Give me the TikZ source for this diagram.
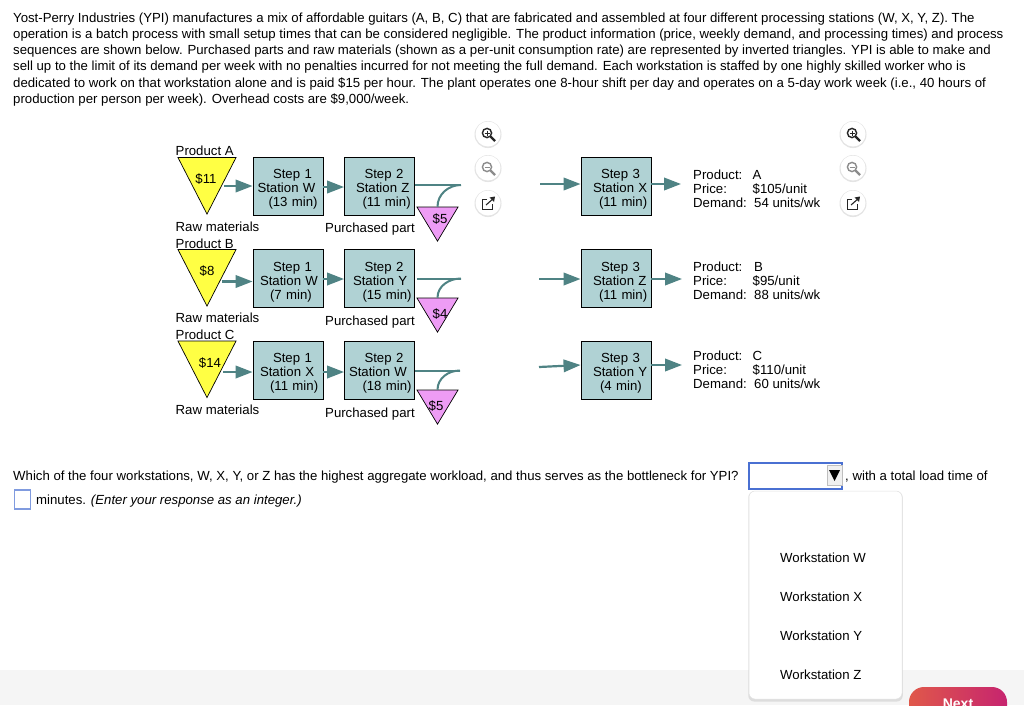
\documentclass[tikz,border=0pt]{standalone}
\usepackage{fontspec}
\setmainfont{Liberation Sans}
\usetikzlibrary{arrows.meta,shapes.geometric,shadows}
\definecolor{flowcol}{HTML}{4F8384}
\definecolor{boxcol}{HTML}{B0D2D4}
\definecolor{rawcol}{HTML}{FFFF44}
\definecolor{partcol}{HTML}{EE9CF5}
\definecolor{fieldcol}{HTML}{4A70D2}
\definecolor{nextleft}{HTML}{E0584A}
\definecolor{nextright}{HTML}{C6246F}
\tikzset{
  txt/.style={inner sep=0pt,anchor=west,align=left,font=\fontsize{13.2}{14.1}\selectfont},
  stepbox/.style={draw=black,line width=0.9pt,fill=boxcol,minimum height=58pt,text width=70pt,
    inner sep=0pt,align=left,font=\fontsize{13.2}{14.1}\selectfont},
  rawtri/.style={isosceles triangle,isosceles triangle stretches,shape border rotate=-90,draw=black,
    line width=0.7pt,fill=rawcol,minimum width=58pt,minimum height=56.5pt,inner sep=0pt,anchor=apex},
  parttri/.style={isosceles triangle,isosceles triangle stretches,shape border rotate=-90,draw=black,
    line width=0.7pt,fill=partcol,minimum width=41pt,minimum height=34pt,inner sep=0pt,anchor=apex},
  flow/.style={draw=flowcol,line width=2.2pt,-{Triangle[length=17pt,width=12.5pt]}},
  feed/.style={draw=flowcol,line width=2pt},
  iconbtn/.style={circle,fill=white,minimum size=25pt,inner sep=0pt,
    general shadow={fill=black!35,opacity=0.3,shadow xshift=0pt,shadow yshift=-0.5pt,shadow scale=1.08}},
  menuitem/.style={txt}
}
\newcommand{\steptext}[6]{\hspace*{#1pt}\rule{0pt}{16.5pt}#2\\\hspace*{#3pt}#4\\\hspace*{#5pt}#6}
\newcommand{\zoomicons}[2]{
  \node[iconbtn] (#1plus) at (#2,134) {};
  \node[iconbtn] (#1minus) at (#2,168) {};
  \node[iconbtn] (#1open) at (#2,203) {};
  \draw[line width=1.4pt,black!85] (#2-1,133) circle (4.6pt);
  \draw[line width=2.2pt,black!85] (#2+2.5,136.5) -- (#2+7,141);
  \draw[line width=1pt,black!85] (#2-3.5,133) -- (#2+1.5,133) (#2-1,130.5) -- (#2-1,135.5);
  \draw[line width=1.4pt,black!45] (#2-1,167) circle (4.6pt);
  \draw[line width=2.2pt,black!45] (#2+2.5,170.5) -- (#2+7,175);
  \draw[line width=1pt,black!45] (#2-3.5,167) -- (#2+1.5,167);
  \draw[line width=1pt,black!85] (#2-1,199) -- (#2-6,199) -- (#2-6,209) -- (#2+4,209) -- (#2+4,204);
  \draw[line width=1.1pt,black!85] (#2-2,205) -- (#2+6,198);
  \fill[black!85] (#2+7,196.5) -- (#2+1.5,197.5) -- (#2+6,202) -- cycle;
}
\begin{document}
\begin{tikzpicture}[x=1pt,y=-1pt]
  \useasboundingbox (0,0) rectangle (1024,705);
  \fill[white] (0,0) rectangle (1024,705);
  \fill[black!4] (0,670) rectangle (1024,705);

  % problem statement
  \node[txt,anchor=north west,font=\fontsize{13.2}{16.25}\selectfont] (intro) at (13,12.3) {Yost-Perry Industries (YPI) manufactures a mix of affordable guitars (A, B, C) that are fabricated and assembled at four different processing stations (W, X, Y, Z). The\\
  operation is a batch process with small setup times that can be considered negligible. The product information (price, weekly demand, and processing times) and process\\
  sequences are shown below. Purchased parts and raw materials (shown as a per-unit consumption rate) are represented by inverted triangles. YPI is able to make and\\
  sell up to the limit of its demand per week with no penalties incurred for not meeting the full demand. Each workstation is staffed by one highly skilled worker who is\\
  dedicated to work on that workstation alone and is paid \$15 per hour. The plant operates one 8-hour shift per day and operates on a 5-day work week (i.e., 40 hours of\\
  production per person per week). Overhead costs are \$9,000/week.};

  % product A
  \node[txt] (nameA) at (175.5,150.5) {Product A};
  \node[rawtri] (rawA) at (207,215) {};
  \node[txt,anchor=center] (costA) at (206,179.5) {\$11};
  \node[txt] (matA) at (175.5,226.5) {Raw materials};
  \node[stepbox] (stepAa) at (288,186) {\steptext{20}{Step 1}{4.5}{Station W}{15.5}{(13 min)}};
  \node[stepbox] (stepAb) at (379.5,186) {\steptext{20}{Step 2}{11.5}{Station Z}{18}{(11 min)}};
  \node[stepbox] (stepAc) at (616,186) {\steptext{20}{Step 3}{12}{Station X}{18}{(11 min)}};
  \node[parttri] (partA) at (437.5,242) {};
  \node[txt,anchor=center] (feeA) at (440,219.5) {\$5};
  \node[txt] (buyA) at (325,229.5) {Purchased part};
  \node[txt] (infoA) at (693,189) {\makebox[59.5pt][l]{Product:}A\\\makebox[59.5pt][l]{Price:}\$105/unit\\\makebox[61pt][l]{Demand:}54 units/wk};
  \coordinate (startA) at (224,186);
  \coordinate (midA) at (461,185);
  \coordinate (resumeA) at (540,184);
  \coordinate (endA) at (681,184);
  \draw[flow] (startA) -- (startA -| stepAa.west);
  \draw[flow] (stepAa.east |- 0,187) -- (stepAb.west |- 0,187);
  \draw[feed] (stepAb.east |- midA) -- (midA);
  \draw[feed] (partA.lower side) to[out=90,in=180] (midA);
  \draw[flow] (resumeA) -- (resumeA -| stepAc.west);
  \draw[flow] (endA -| stepAc.east) -- (endA);

  % product B
  \node[txt] (nameB) at (175.5,243.5) {Product B};
  \node[rawtri] (rawB) at (207,307) {};
  \node[txt,anchor=center] (costB) at (207,271.5) {\$8};
  \node[txt] (matB) at (175.5,318) {Raw materials};
  \node[stepbox] (stepBa) at (288,278.3) {\steptext{20}{Step 1}{7}{Station W}{17}{(7 min)}};
  \node[stepbox] (stepBb) at (379.5,278.3) {\steptext{20}{Step 2}{8.5}{Station Y}{18}{(15 min)}};
  \node[stepbox] (stepBc) at (616,278.3) {\steptext{20}{Step 3}{12}{Station Z}{18}{(11 min)}};
  \node[parttri] (partB) at (437.5,333) {};
  \node[txt,anchor=center] (feeB) at (440,314.5) {\$4};
  \node[txt] (buyB) at (325,322) {Purchased part};
  \node[txt] (infoB) at (693,280.5) {\makebox[61pt][l]{Product:}B\\\makebox[59.5pt][l]{Price:}\$95/unit\\\makebox[61pt][l]{Demand:}88 units/wk};
  \coordinate (startB) at (222,281.5);
  \coordinate (midB) at (461,278.5);
  \coordinate (resumeB) at (539,279);
  \coordinate (endB) at (682,279);
  \draw[flow] (startB) -- (startB -| stepBa.west);
  \draw[flow] (stepBa.east |- 0,279) -- (stepBb.west |- 0,279);
  \draw[feed] ([xshift=2pt]stepBb.east |- midB) -- (midB);
  \draw[feed] (partB.lower side) to[out=90,in=180] (midB);
  \draw[flow] (resumeB) -- (resumeB -| stepBc.west);
  \draw[flow] (endB -| stepBc.east) -- (endB);

  % product C
  \node[txt] (nameC) at (175.5,335) {Product C};
  \node[rawtri] (rawC) at (207,398.5) {};
  \node[txt,anchor=center] (costC) at (210,363.5) {\$14};
  \node[txt] (matC) at (175.5,410) {Raw materials};
  \node[stepbox] (stepCa) at (288,370) {\steptext{20}{Step 1}{7}{Station X}{17}{(11 min)}};
  \node[stepbox] (stepCb) at (379.5,370) {\steptext{20}{Step 2}{4.5}{Station W}{18}{(18 min)}};
  \node[stepbox] (stepCc) at (616,370) {\steptext{20}{Step 3}{12}{Station Y}{19}{(4 min)}};
  \node[parttri] (partC) at (437.5,425) {};
  \node[txt,anchor=center] (feeC) at (436,406.5) {\$5};
  \node[txt] (buyC) at (325,414) {Purchased part};
  \node[txt] (infoC) at (693,369.5) {\makebox[59.5pt][l]{Product:}C\\\makebox[59.5pt][l]{Price:}\$110/unit\\\makebox[61pt][l]{Demand:}60 units/wk};
  \coordinate (startC) at (223,372);
  \coordinate (midC) at (460,370.5);
  \coordinate (resumeC) at (539,367);
  \coordinate (endC) at (682,365);
  \draw[flow] (startC) -- (startC -| stepCa.west);
  \draw[flow] (stepCa.east |- 0,372) -- (stepCb.west |- 0,372);
  \draw[feed] (stepCb.east |- midC) -- (midC);
  \draw[feed] (partC.lower side) to[out=90,in=180] (midC);
  \draw[flow] (resumeC) -- (stepCc.west |- 0,365);
  \draw[flow] (endC -| stepCc.east) -- (endC);

  \zoomicons{left}{488}
  \zoomicons{right}{853}

  % question and answer fields
  \node[txt] (question) at (13,477) {Which of the four workstations, W, X, Y, or Z has the highest aggregate workload, and thus serves as the bottleneck for YPI?};
  \node[draw=fieldcol,line width=2pt,fill=white,minimum width=93pt,minimum height=26pt,inner sep=0pt] (select) at (795,475.5) {};
  \node[draw=black!25,fill=black!6,line width=0.5pt,minimum width=15pt,minimum height=20pt,inner sep=0pt] (selectbtn) at (834.5,475) {};
  \fill[black] (829,470) -- (840,470) -- (834.5,481) -- cycle;
  \node[txt] (questionend) at (845,476.5) {, with a total load time of};
  \node[draw=fieldcol!70,line width=1.4pt,fill=white,minimum width=16pt,minimum height=19pt,inner sep=0pt] (answer) at (22.5,499.5) {};
  \node[txt] (minutes) at (36,501.5) {minutes. \textit{(Enter your response as an integer.)}};

  % open menu
  \node[draw=black!12,line width=0.5pt,fill=white,rounded corners=6pt,minimum width=153pt,minimum height=208pt,inner sep=0pt,
    general shadow={fill=black!30,opacity=0.35,shadow xshift=0pt,shadow yshift=-1.5pt,shadow scale=1.01}] (menu) at (825.5,595) {};
  \node[menuitem] (itemW) at (780,557.5) {Workstation W};
  \node[menuitem] (itemX) at (780,596.5) {Workstation X};
  \node[menuitem] (itemY) at (780,635.5) {Workstation Y};
  \node[menuitem] (itemZ) at (780,674.5) {Workstation Z};

  % button cut off by the page edge
  \node[rounded corners=15pt,left color=nextleft,right color=nextright,minimum width=98pt,minimum height=34pt,inner sep=0pt] (nextbtn) at (958,704) {};
  \node[txt,anchor=center,text=white,font=\fontsize{14}{14}\selectfont\bfseries] (nexttxt) at (958,703.5) {Next};
\end{tikzpicture}
\end{document}
